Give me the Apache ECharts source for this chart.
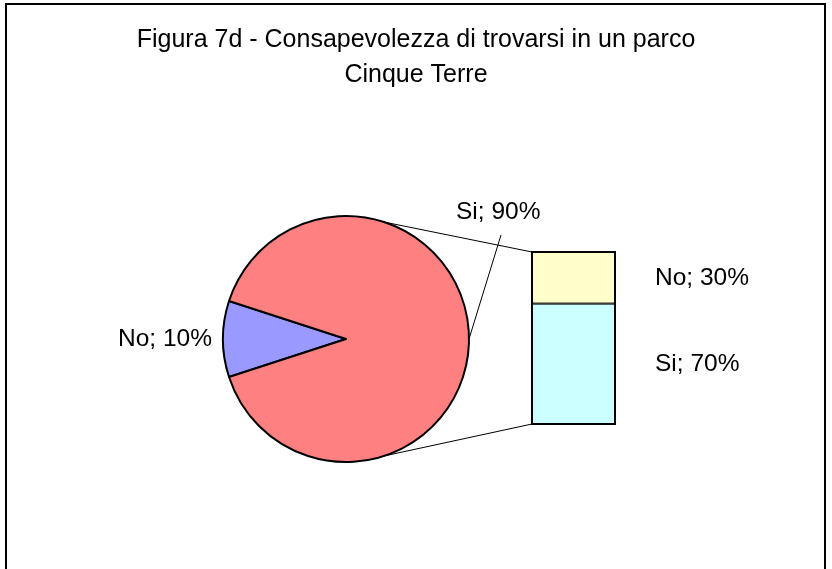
<!DOCTYPE html>
<html>
<head>
<meta charset="utf-8">
<script src="https://cdn.jsdelivr.net/npm/echarts@6/dist/echarts.min.js"></script>
<style>
html, body { margin: 0; padding: 0; background: #fff; }
#chart { width: 832px; height: 569px; }
</style>
</head>
<body>
<div id="chart"></div>
<script>
var titleText = 'Figura 7d - Consapevolezza di trovarsi in un parco\nCinque Terre';
var pieNames = ['No', 'Si'];
var pieValues = [10, 90];
var pieColors = ['#9999FF', '#FF8080'];
// secondary bar, bottom to top
var barNames = ['Si', 'No'];
var barValues = [70, 30];
var barColors = ['#CCFFFF', '#FFFFCC'];

// layout
var cx = 346, cy = 339, r = 123;
var barLeft = 532, barTop = 252, barW = 83, barH = 172;
var font = '"Liberation Sans", Arial, sans-serif';
var fs = 24.5;

var chart = echarts.init(document.getElementById('chart'));

function piePoint(deg) {
	var a = deg * Math.PI / 180;
	return [cx + r * Math.cos(a), cy - r * Math.sin(a)];
}
var pTop = piePoint(72), pBot = piePoint(-72);

var barSeries = barNames.map(function (name, i) {
	return {
		name: name,
		type: 'bar',
		stack: 'tot',
		barWidth: '100%',
		data: [barValues[i]],
		// 1px inner border per segment; the grid border supplies the outer edge
		itemStyle: { color: barColors[i], borderColor: '#000', borderWidth: 1 },
		label: {
			show: true,
			position: 'right',
			distance: 40,
			formatter: name + '; {c}%',
			fontFamily: font,
			fontSize: fs,
			color: '#000'
		}
	};
});

chart.setOption({
	backgroundColor: '#fff',
	animation: false,
	title: {
		text: titleText,
		left: 'center',
		top: 18,
		textStyle: { fontFamily: font, fontSize: 25, fontWeight: 'normal', color: '#000', lineHeight: 35 }
	},
	grid: {
		left: barLeft, top: barTop, width: barW, height: barH,
		show: true, borderColor: '#000', borderWidth: 2, backgroundColor: 'transparent'
	},
	xAxis: { type: 'category', data: ['Si'], show: false },
	yAxis: { type: 'value', min: 0, max: 100, show: false, splitLine: { show: false } },
	series: [{
		type: 'pie',
		center: [cx, cy],
		radius: r,
		startAngle: 198,
		clockwise: true,
		data: pieNames.map(function (n, i) {
			return {
				name: n,
				value: pieValues[i],
				itemStyle: { color: pieColors[i] },
				labelLine: { show: i === 1 }
			};
		}),
		itemStyle: { borderColor: '#000', borderWidth: 2 },
		label: {
			position: 'outside',
			formatter: '{b}; {d}%',
			fontFamily: font,
			fontSize: fs,
			color: '#000'
		},
		labelLine: { lineStyle: { color: '#000', width: 1 } },
		labelLayout: function (p) {
			if (p.dataIndex === 0) {
				return { x: cx - r - 11, y: cy, align: 'right', verticalAlign: 'middle' };
			}
			var edge = [cx + r, cy];
			var knee = [cx + r + 32, barTop - 17];
			return {
				x: cx + r - 13, y: barTop - 40, align: 'left', verticalAlign: 'middle',
				labelLinePoints: [edge, knee, knee]
			};
		}
	}].concat(barSeries),
	graphic: [
		{ type: 'rect', shape: { x: 6, y: 4, width: 819, height: 600 },
			style: { fill: 'none', stroke: '#000', lineWidth: 2 } },
		{ type: 'line', shape: { x1: pTop[0], y1: pTop[1], x2: barLeft, y2: barTop },
			style: { stroke: '#000', lineWidth: 1 } },
		{ type: 'line', shape: { x1: pBot[0], y1: pBot[1], x2: barLeft, y2: barTop + barH },
			style: { stroke: '#000', lineWidth: 1 } }
	]
});
</script>
</body>
</html>
